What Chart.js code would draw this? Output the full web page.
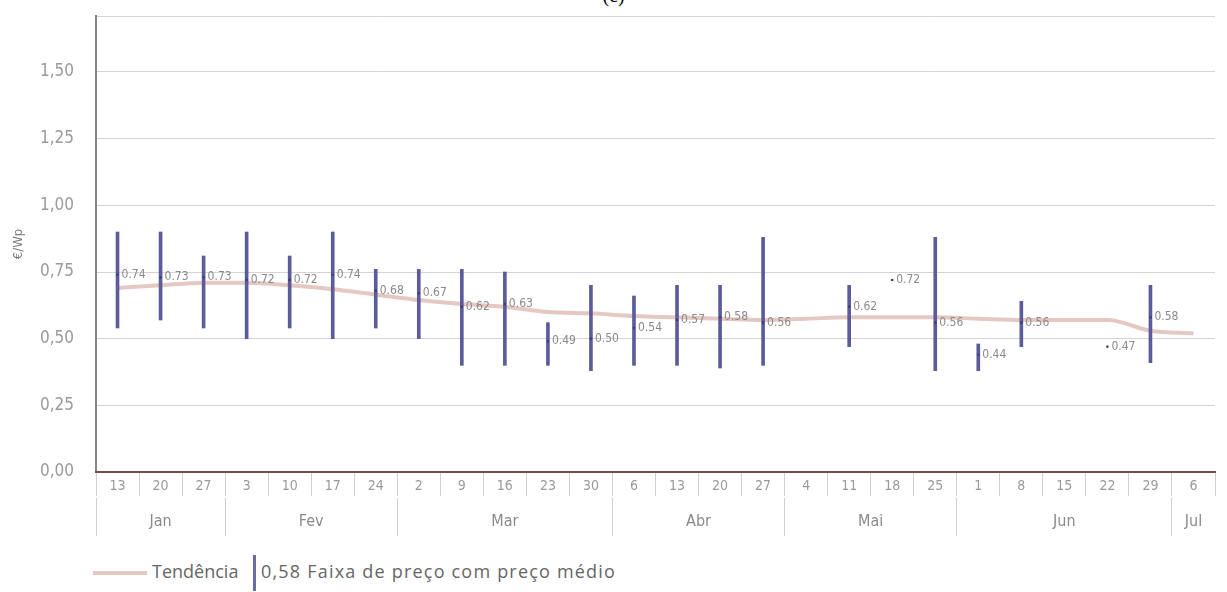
<!DOCTYPE html>
<html>
<head>
<meta charset="utf-8">
<script src="https://cdn.jsdelivr.net/npm/chart.js@4/dist/chart.umd.min.js"></script>
<style>
  body { margin: 0; background: #fff; width: 1227px; height: 592px; overflow: hidden; position: relative; }
  #wrap { position: absolute; left: 0; top: 0; width: 1227px; height: 545px; }
  #title { position: absolute; top: -16px; left: 0; width: 1227px; text-align: center; font: 20px "Liberation Serif", serif; color: #000; }
  .legend { position: absolute; top: 559px; font: 18px "Open Sans", sans-serif; color: #666; }
  .swatch-line { position: absolute; left: 93px; top: 571px; width: 54px; height: 4px; background: #e6c8c2; }
  .swatch-bar { position: absolute; left: 253px; top: 555px; width: 3px; height: 36px; background: #6a6aa8; }
</style>
</head>
<body>
<div id="title">(c)</div>
<div id="wrap"><canvas id="priceChart"></canvas></div>
<div class="swatch-line"></div>
<div class="legend" style="left:152px">Tendência</div>
<div class="swatch-bar"></div>
<div class="legend" style="left:261px; letter-spacing:1.2px">0,58 Faixa de preço com preço médio</div>
<script>
// semanas (eixo x) e meses
const weeks = ['13','20','27','3','10','17','24','2','9','16','23','30','6','13','20','27','4','11','18','25','1','8','15','22','29','6'];
const months = ['Jan','Fev','Mar','Abr','Mai','Jun','Jul'];
const monthStarts = [0, 3, 7, 12, 16, 20, 25]; // índice da primeira semana de cada mês

// faixa de preço (mín / máx) e preço médio, €/Wp
const lows  = [0.54,0.57,0.54,0.50,0.54,0.50,0.54,0.50,0.40,0.40,0.40,0.38,0.40,0.40,0.39,0.40,null,0.47,null,0.38,0.38,0.47,null,null,0.41,null];
const highs = [0.90,0.90,0.81,0.90,0.81,0.90,0.76,0.76,0.76,0.75,0.56,0.70,0.66,0.70,0.70,0.88,null,0.70,null,0.88,0.48,0.64,null,null,0.70,null];
const means = [0.74,0.73,0.73,0.72,0.72,0.74,0.68,0.67,0.62,0.63,0.49,0.50,0.54,0.57,0.58,0.56,null,0.62,0.72,0.56,0.44,0.56,null,0.47,0.58,null];
const trend = [0.69,0.70,0.71,0.71,0.70,0.685,0.665,0.645,0.63,0.62,0.60,0.595,0.585,0.58,0.575,0.57,0.575,0.58,0.58,0.58,0.575,0.57,0.57,0.57,0.53,0.52];

// eixo y
const yTicks = [0, 0.25, 0.5, 0.75, 1.0, 1.25, 1.5, 1.71];
const yTitle = '€/Wp';

const narrow = '"Liberation Sans Narrow", "DejaVu Sans Condensed", sans-serif';

// posições dos meses no eixo inferior (limites e centros)
const monthBounds = monthStarts.map(i => i - 0.5);
const monthCenters = monthStarts.map((s, k) => {
    const e = k + 1 < monthStarts.length ? monthStarts[k + 1] : weeks.length;
    return (s + e - 1) / 2;
});
const monthTicks = monthBounds.concat(monthCenters).sort((a, b) => a - b);

// rótulos do preço médio
const meanLabels = {
    id: 'meanLabels',
    afterDatasetsDraw(chart) {
        const meta = chart.getDatasetMeta(2);
        const ctx = chart.ctx;
        ctx.save();
        ctx.font = '12px ' + narrow;
        ctx.fillStyle = '#8a8a8a';
        ctx.textBaseline = 'middle';
        meta.data.forEach((pt, i) => {
            if (means[i] == null) return;
            ctx.fillText(means[i].toFixed(2), pt.x + 4, pt.y);
        });
        ctx.restore();
    }
};

window.addEventListener('DOMContentLoaded', () => {
    const ctx = document.getElementById('priceChart').getContext('2d');
    new Chart(ctx, {
        type: 'bar',
        data: {
            labels: weeks,
            datasets: [{
                type: 'line',
                label: 'Tendência',
                data: trend,
                borderColor: '#e6c8c2',
                borderWidth: 4,
                pointRadius: 0,
                cubicInterpolationMode: 'monotone',
                order: 3
            }, {
                label: 'Faixa de preço',
                data: lows.map((l, i) => l == null ? null : [l, highs[i]]),
                backgroundColor: '#5c5c9c',
                barThickness: 3,
                order: 2
            }, {
                type: 'line',
                label: 'Preço médio',
                data: means,
                showLine: false,
                pointStyle: 'rect',
                pointRadius: 1.6,
                pointBackgroundColor: '#3b3b6e',
                pointBorderWidth: 0,
                order: 1
            }]
        },
        options: {
            responsive: true,
            maintainAspectRatio: false,
            animation: false,
            layout: { padding: { top: 16, right: 12, left: 0, bottom: 0 } },
            plugins: { legend: { display: false }, tooltip: { enabled: false } },
            scales: {
                y: {
                    min: 0,
                    max: 1.71,
                    afterBuildTicks: axis => { axis.ticks = yTicks.map(v => ({ value: v })); },
                    afterFit: axis => { axis.width = 96; axis.paddingTop = 0; axis.paddingBottom = 0; },
                    border: { color: '#858585', width: 2 },
                    grid: { color: '#d4d4d4', drawTicks: false },
                    ticks: {
                        padding: 22,
                        color: '#9a9a9a',
                        font: { family: narrow, size: 17 },
                        callback: v => v > 1.6 ? '' : v.toFixed(2).replace('.', ',')
                    },
                    title: { display: true, text: yTitle, color: '#777', font: { family: narrow, size: 13 }, padding: { top: 11, bottom: 0 } }
                },
                x: {
                    position: 'bottom',
                    afterFit: axis => { axis.height = 26; },
                    border: { color: '#7c4a4c', width: 2 },
                    grid: { offset: true, drawOnChartArea: false, color: '#cfcfcf', tickLength: 24 },
                    ticks: {
                        padding: -18,
                        color: '#9a9a9a',
                        autoSkip: false,
                        maxRotation: 0,
                        font: { family: narrow, size: 14 }
                    }
                },
                xMonth: {
                    type: 'linear',
                    position: 'bottom',
                    offset: false,
                    min: -0.5,
                    max: weeks.length - 0.5,
                    afterBuildTicks: axis => {
                        axis.ticks = monthTicks.map(v => ({ value: v }));
                    },
                    afterFit: axis => { axis.height = 47; },
                    border: { display: false },
                    grid: {
                        offset: false,
                        drawOnChartArea: false,
                        tickLength: 38,
                        color: c => (c.tick && monthBounds.includes(c.tick.value)) ? '#d0d0d0' : 'rgba(0,0,0,0)'
                    },
                    ticks: {
                        padding: -24,
                        autoSkip: false,
                        maxRotation: 0,
                        color: '#8a8a8a',
                        font: { family: narrow, size: 16 },
                        callback: v => {
                            const k = monthCenters.indexOf(v);
                            return k >= 0 ? months[k] : '';
                        }
                    }
                }
            }
        },
        plugins: [meanLabels]
    });
});
</script>
</body>
</html>
